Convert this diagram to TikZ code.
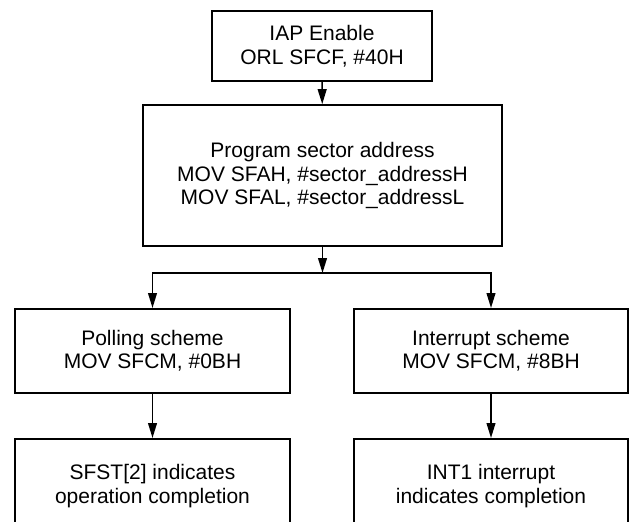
\documentclass[tikz,border=0pt]{standalone}
\usepackage{fontspec}
\setmainfont{Liberation Sans}
\usetikzlibrary{arrows.meta}
\colorlet{boxline}{black}

\begin{document}
\begin{tikzpicture}[x=0.5pt,y=-0.5pt,
        stage/.style={draw=boxline, line width=1pt, inner sep=0pt, align=center,
            font=\fontsize{10.5}{11.7}\selectfont},
        flow/.style={draw=boxline, line width=0.8pt, -{Triangle[length=7.5pt,width=4.4pt]}}]
        \useasboundingbox (0,0) rectangle (630,521);
        \clip (0,0) rectangle (630,521);
        % top of the flow
        \node[stage, minimum width=110pt, minimum height=35pt,
            font=\fontsize{10.5}{12.2}\selectfont] (iap) at (322,46)
            {IAP Enable\\ORL SFCF, \#40H};
        \node[stage, minimum width=179.5pt, minimum height=70.3pt] (addr) at (322.5,175.5)
            {Program sector address\\MOV SFAH, \#sector\_addressH\\MOV SFAL, \#sector\_addressL};
        \coordinate (split) at (322.5,273);
        % the two schemes
        \node[stage, minimum width=137.5pt, minimum height=42pt] (poll) at (152.5,351)
            {Polling scheme\\MOV SFCM, \#0BH};
        \node[stage, minimum width=137pt, minimum height=42pt] (intr) at (491,351)
            {Interrupt scheme\\MOV SFCM, \#8BH};
        \node[stage, minimum width=137.5pt, minimum height=47pt] (polldone) at (152.5,486)
            {SFST[2] indicates\\operation completion};
        \node[stage, minimum width=137pt, minimum height=47pt] (intrdone) at (491,486)
            {INT1 interrupt\\indicates completion};
        \draw[flow] (iap) -- (addr);
        \draw[flow] (addr) -- (split);
        \draw[flow] (split) -| (poll.north);
        \draw[flow] (split) -| (intr.north);
        \draw[flow] (poll) -- (polldone);
        \draw[flow] (intr) -- (intrdone);
    \end{tikzpicture}
\end{document}
